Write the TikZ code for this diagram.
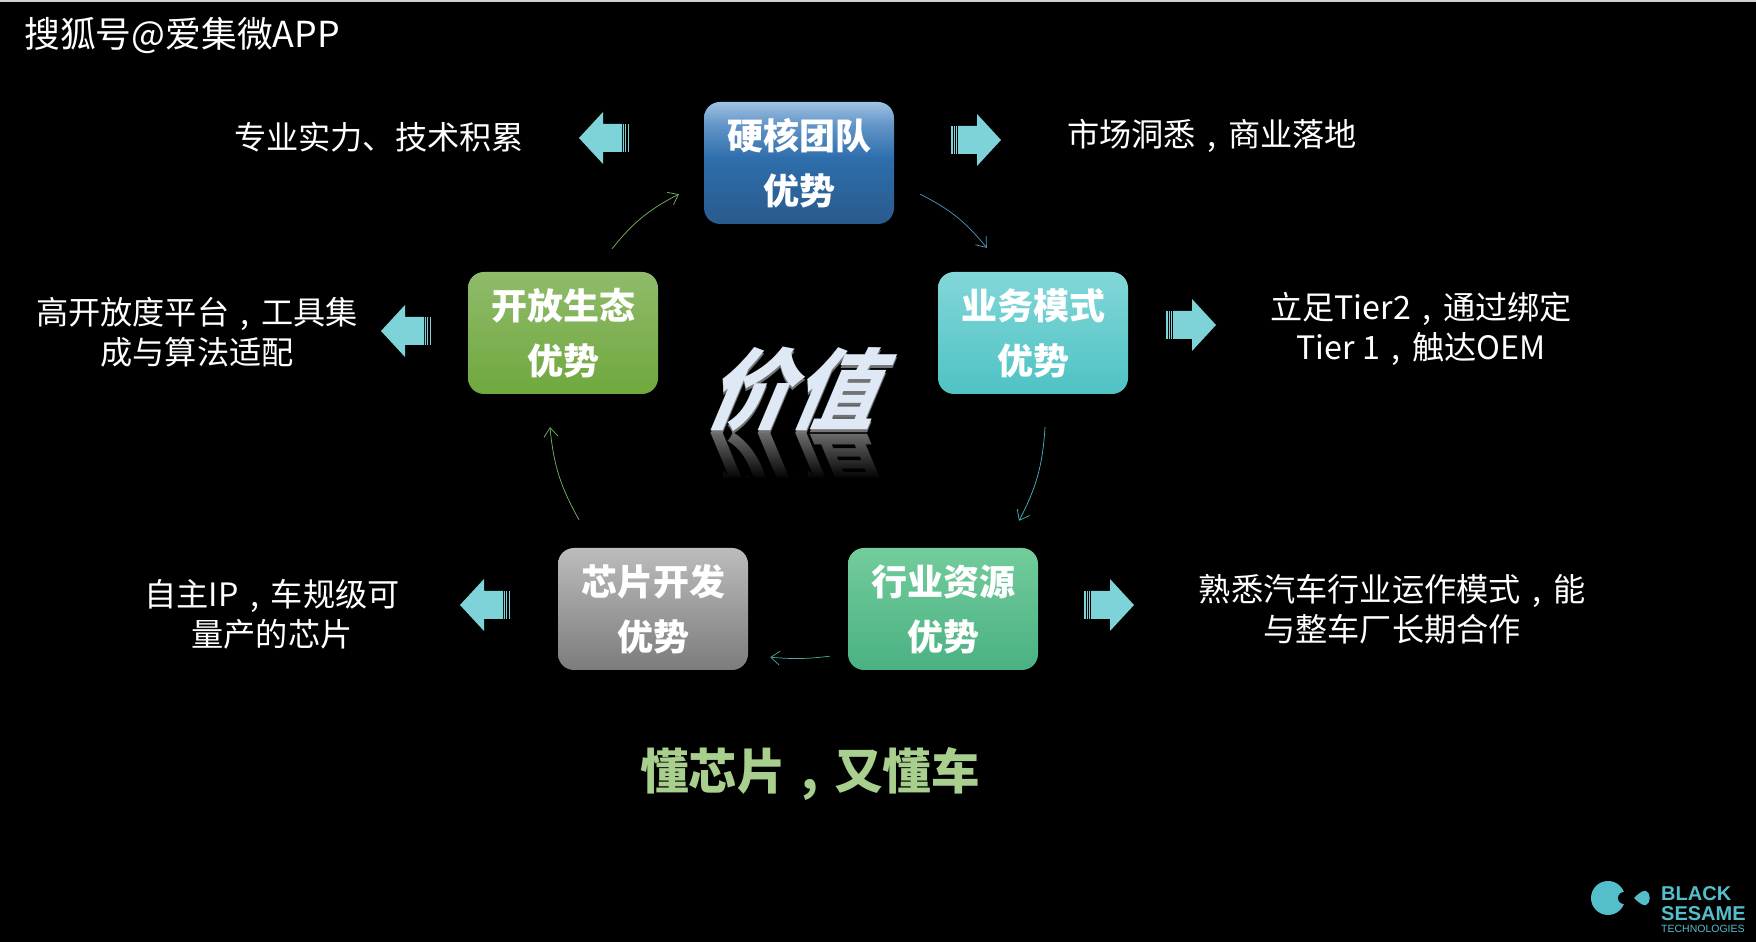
\documentclass[tikz,border=0pt]{standalone}
\usepackage{fontspec}
\setmainfont{Noto Sans CJK SC}
\newfontfamily\heavyfont{Noto Sans CJK SC Black}
\newfontfamily\logofont{Liberation Sans}
\usepackage{xcolor}
\usepackage{tikz}
\usetikzlibrary{arrows.meta}
\usetikzlibrary{fadings}
\definecolor{arrowteal}{HTML}{7DD3D8}
\definecolor{logoteal}{HTML}{55BECB}
\definecolor{slogangreen}{HTML}{A9CF8F}
\definecolor{valuewhite}{HTML}{DFE9F6}
\definecolor{teamtop}{RGB}{160,194,228}
\definecolor{teamupper}{RGB}{100,150,200}
\definecolor{teammid}{RGB}{46,110,172}
\definecolor{teamlow}{RGB}{42,90,140}
\pgfdeclareverticalshading{teamshade}{100bp}{
  color(0bp)=(teamlow);
  color(25bp)=(teamlow);
  color(52bp)=(teammid);
  color(66bp)=(teamupper);
  color(75bp)=(teamtop);
  color(100bp)=(teamtop)}
\newcommand{\midcomma}{\makebox[1em][c]{,}}
\tikzset{
  advbox/.style={rounded corners=16pt,minimum width=190pt,minimum height=122pt,inner sep=0pt,
    align=center,text=white,font=\heavyfont\fontsize{36}{55}\selectfont},
  sidetext/.style={align=center,text=white,inner sep=0pt,font=\fontsize{32.2}{40}\selectfont},
  flowline/.style={-{Straight Barb[length=9pt,width=14pt]},line width=0.7pt},
  valuetext/.style={inner sep=0pt,xslant=0.42,xscale=0.96,transform shape,font=\heavyfont\fontsize{88}{88}\selectfont},
  pics/blockarrow/.style={code={
    \fill[arrowteal] (7,-14) -- (26,-14) -- (26,-26) -- (50,0) -- (26,26) -- (26,14) -- (7,14) -- cycle;
    \fill[arrowteal] (0,-14) rectangle (1.5,14);
    \fill[arrowteal] (3,-14) rectangle (4.2,14);
    \fill[arrowteal] (5.4,-14) rectangle (6.4,14);
  }}
}
\begin{document}
\begin{tikzpicture}[x=1pt,y=1pt]
  \useasboundingbox (0,0) rectangle (1756,942);
  \fill[black] (0,0) rectangle (1756,942);
  \fill[black!18] (0,940) rectangle (1756,942);
  % header
  \node[anchor=west,text=white,inner sep=0pt,font=\fontsize{35.8}{40}\selectfont] (header) at (24,906) {搜狐号@爱集微APP};
  % the five boxes
  \node[advbox,shading=teamshade] (team) at (799,779) {硬核团队\\优势};
  \node[advbox,top color={rgb,255:red,130;green,215;blue,216},middle color={rgb,255:red,94;green,208;blue,212},bottom color={rgb,255:red,79;green,194;blue,196}] (biz) at (1033,609) {业务模式\\优势};
  \node[advbox,top color={rgb,255:red,144;green,187;blue,106},middle color={rgb,255:red,124;green,178;blue,76},bottom color={rgb,255:red,111;green,168;blue,62}] (open) at (563,609) {开放生态\\优势};
  \node[advbox,top color={rgb,255:red,115;green,204;blue,155},middle color={rgb,255:red,85;green,201;blue,143},bottom color={rgb,255:red,74;green,177;blue,131}] (res) at (943,333) {行业资源\\优势};
  \node[advbox,top color={rgb,255:red,188;green,188;blue,188},middle color={rgb,255:red,164;green,164;blue,164},bottom color={rgb,255:red,124;green,124;blue,124}] (chip) at (653,333) {芯片开发\\优势};
  % connectors
  \draw[flowline,color={rgb,255:red,84;green,151;blue,186}] ([shift={(26,30)}]team.south east) to[bend left=12] ([shift={(49,24)}]biz.north west);
  \draw[flowline,color={rgb,255:red,70;green,185;blue,195}] ([shift={(12,-33)}]biz.south) to[bend left=12] ([shift={(76,27)}]res.north);
  \draw[flowline,color={rgb,255:red,70;green,170;blue,160}] ([shift={(-18,14)}]res.south west) to[bend left=6] ([shift={(22,13)}]chip.south east);
  \draw[flowline,color={rgb,255:red,120;green,180;blue,105}] ([shift={(-74,28)}]chip.north) to[bend left=12] ([shift={(-13,-33)}]open.south);
  \draw[flowline,color={rgb,255:red,120;green,180;blue,105}] ([shift={(49,23)}]open.north) to[bend left=12] ([shift={(-25,30)}]team.south west);
  % block arrows
  \pic[xscale=-1] at (629,804) {blockarrow};
  \pic at (951,802) {blockarrow};
  \pic at (1166,617) {blockarrow};
  \pic at (1084,337) {blockarrow};
  \pic[xscale=-1] at (510,337) {blockarrow};
  \pic[xscale=-1] at (431,611) {blockarrow};
  % side texts
  \node[sidetext] (skill) at (379,805) {专业实力、技术积累};
  \node[sidetext] (market) at (1212,806) {市场洞悉\midcomma 商业落地};
  \node[sidetext] (tier) at (1421,613) {立足Tier2\midcomma 通过绑定\\Tier 1\midcomma 触达OEM};
  \node[sidetext] (auto) at (1392,333) {熟悉汽车行业运作模式\midcomma 能\\与整车厂长期合作};
  \node[sidetext] (ip) at (272,328) {自主IP\midcomma 车规级可\\量产的芯片};
  \node[sidetext] (tool) at (197,610) {高开放度平台\midcomma 工具集\\成与算法适配};
  % centre word with its reflection
  \node[yscale=-1,valuetext,text=black!55] (valuemirror) at (802,467.5) {价值};
  \fill[black] (690,420) rectangle (910,464);
  \fill[black,path fading=north] (690,463) rectangle (910,512);
  \node[valuetext,text=black!55] (valueedge) at (802,550) {价值};
  \node[valuetext,text=valuewhite] (value) at (802,552.5) {价值};
  % slogan
  \node[text=slogangreen,inner sep=0pt,font=\heavyfont\fontsize{48.5}{50}\selectfont] (slogan) at (810,168) {懂芯片\midcomma 又懂车};
  % logo
  \fill[logoteal] (1608,44) circle (17);
  \fill[black] (1624,44) circle (6);
  \fill[logoteal] (1634,44) .. controls (1640,50) and (1644,52) .. (1646,51) .. controls (1651,49) and (1651,39) .. (1646,37) .. controls (1644,36) and (1640,38) .. (1634,44) -- cycle;
  \node[anchor=west,text=logoteal,inner sep=0pt,font=\logofont\bfseries\fontsize{20}{20}\selectfont] (black) at (1661,48) {BLACK};
  \node[anchor=west,text=logoteal,inner sep=0pt,font=\logofont\bfseries\fontsize{20}{20}\selectfont] (sesame) at (1661,28) {SESAME};
  \node[anchor=west,text=logoteal,inner sep=0pt,font=\logofont\fontsize{10.5}{11}\selectfont] (tech) at (1661,13) {TECHNOLOGIES};
\end{tikzpicture}
\end{document}
